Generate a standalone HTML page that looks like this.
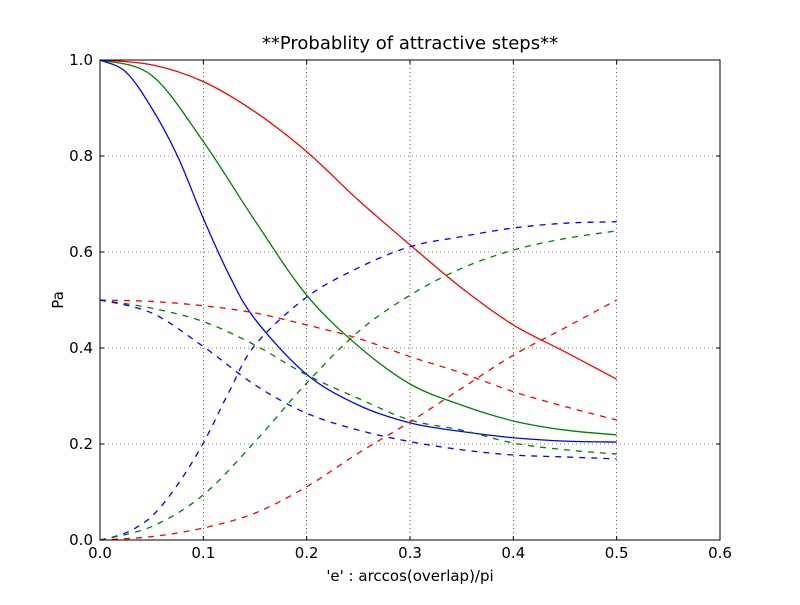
<!DOCTYPE html>
<html><head><meta charset="utf-8"><style>
body{margin:0;background:#fff;}
svg text{font-family:"DejaVu Sans","Liberation Sans",sans-serif;fill:#000;}
</style></head><body>
<svg id="chart" width="800" height="600" viewBox="0 0 800 600">
<rect x="0" y="0" width="800" height="600" fill="#fff"/>
<g id="grid"></g>
<g id="series"></g>
<rect x="100" y="60" width="620" height="480" fill="none" stroke="#000" stroke-width="1"/>
<g id="ticks"></g>
<text x="410" y="49" font-size="18" text-anchor="middle">**Probablity of attractive steps**</text>
<text x="410" y="581" font-size="15" text-anchor="middle">'e' : arccos(overlap)/pi</text>
<text x="63" y="300" font-size="15" text-anchor="middle" transform="rotate(-90 63 300)">Pa</text>
</svg>
<script>
const xTicks=[0,0.1,0.2,0.3,0.4,0.5,0.6];
const xTickLabels=["0.0","0.1","0.2","0.3","0.4","0.5","0.6"];
const yTicks=[0,0.2,0.4,0.6,0.8,1.0];
const yTickLabels=["0.0","0.2","0.4","0.6","0.8","1.0"];
const xsA=[0,0.05,0.1,0.15,0.2,0.25,0.3,0.35,0.4,0.45,0.5];
const xsB=[0,0.025,0.05,0.075,0.1,0.125,0.15,0.2,0.25,0.3,0.35,0.4,0.45,0.5];
const redSolid=[1,0.99,0.955,0.892,0.809,0.708,0.615,0.525,0.448,0.392,0.335];
const greenSolid=[1,0.968,0.83,0.665,0.51,0.404,0.325,0.281,0.248,0.229,0.219];
const blueSolid=[1,0.975,0.9,0.8,0.67,0.552,0.46,0.345,0.281,0.244,0.226,0.213,0.206,0.204];
const redDashDown=[0.5,0.497,0.488,0.473,0.448,0.42,0.382,0.348,0.309,0.278,0.25];
const greenDashDown=[0.5,0.483,0.455,0.406,0.344,0.295,0.25,0.229,0.202,0.188,0.179];
const blueDashDown=[0.5,0.473,0.403,0.323,0.264,0.229,0.205,0.188,0.177,0.173,0.169];
const blueDashUp=[0,0.015,0.049,0.115,0.202,0.309,0.406,0.506,0.567,0.611,0.632,0.65,0.66,0.663];
const greenDashUp=[0,0.028,0.094,0.205,0.327,0.434,0.51,0.566,0.604,0.628,0.644];
const redDashUp=[0,0.007,0.025,0.056,0.111,0.181,0.246,0.316,0.385,0.442,0.5];

const X=v=>100+v/0.6*620, Y=v=>540-v*480;
const NS="http://www.w3.org/2000/svg";
function mk(t,a,p){const e=document.createElementNS(NS,t);for(const k in a)e.setAttribute(k,a[k]);p.appendChild(e);return e;}
const grid=document.getElementById('grid'),ticks=document.getElementById('ticks'),ser=document.getElementById('series');
xTicks.forEach((t,i)=>{
 const x=X(t);
 if(i>0&&i<xTicks.length-1){const g=mk('line',{x1:x,y1:60,x2:x,y2:540,stroke:'#000','stroke-width':0.6,'stroke-dasharray':'1,3'},grid);
 
 }
 mk('line',{x1:x,y1:540,x2:x,y2:536,stroke:'#000'},ticks);
 mk('line',{x1:x,y1:60,x2:x,y2:64,stroke:'#000'},ticks);
 const tx=mk('text',{x:x,y:558,'font-size':15,'text-anchor':'middle'},ticks);tx.textContent=xTickLabels[i];
 
 
});
yTicks.forEach((t,i)=>{
 const y=Y(t);
 if(i>0&&i<yTicks.length-1){const g=mk('line',{x1:100,y1:y,x2:720,y2:y,stroke:'#000','stroke-width':0.6,'stroke-dasharray':'1,3'},grid);
 
 }
 mk('line',{x1:100,y1:y,x2:104,y2:y,stroke:'#000'},ticks);
 mk('line',{x1:720,y1:y,x2:716,y2:y,stroke:'#000'},ticks);
 const tx=mk('text',{x:93,y:y+5,'font-size':15,'text-anchor':'end'},ticks);tx.textContent=yTickLabels[i];
 
 
});
function path(xs,ys){
 const p=xs.map((x,i)=>[X(x),Y(ys[i])]);
 let d='M'+p[0][0]+','+p[0][1];
 for(let i=0;i<p.length-1;i++){
  const p0=p[i-1]||p[i],p1=p[i],p2=p[i+1],p3=p[i+2]||p[i+1];
  const c1=[p1[0]+(p2[0]-p0[0])/6,p1[1]+(p2[1]-p0[1])/6];
  const c2=[p2[0]-(p3[0]-p1[0])/6,p2[1]-(p3[1]-p1[1])/6];
  d+=`C${c1[0]},${c1[1]} ${c2[0]},${c2[1]} ${p2[0]},${p2[1]}`;
 }
 return d;
}
const defs=[
 [xsA,redSolid,'#ff0000',false,'red-solid-line'],
 [xsA,greenSolid,'#008000',false,'green-solid-line'],
 [xsB,blueSolid,'#0000ff',false,'blue-solid-line'],
 [xsA,redDashDown,'#ff0000',true,'red-dashed-decreasing'],
 [xsA,greenDashDown,'#008000',true,'green-dashed-decreasing'],
 [xsA,blueDashDown,'#0000ff',true,'blue-dashed-decreasing'],
 [xsB,blueDashUp,'#0000ff',true,'blue-dashed-increasing'],
 [xsA,greenDashUp,'#008000',true,'green-dashed-increasing'],
 [xsA,redDashUp,'#ff0000',true,'red-dashed-increasing']
];
defs.forEach(s=>{
 const a={d:path(s[0],s[1]),fill:'none',stroke:s[2],'stroke-width':1.3};
 if(s[3])a['stroke-dasharray']='6,6';
 const e=mk('path',a,ser);
 
 
});
</script>
</body></html>
